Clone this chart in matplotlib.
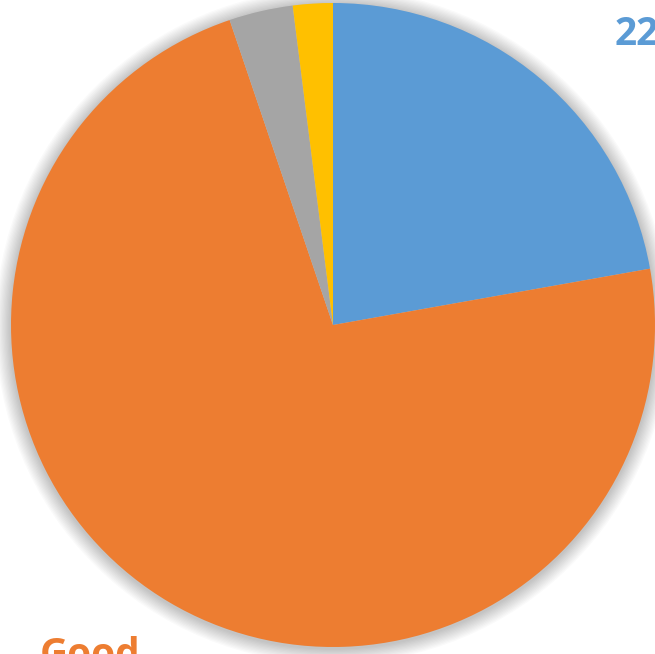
import matplotlib.pyplot as plt
from matplotlib.patches import Circle

categories = ["Very Good", "Good", "Fair", "Poor"]
values = [22.2, 72.6, 3.2, 2.0]
colors = ["#5B9BD5", "#ED7D31", "#A5A5A5", "#FFC000"]

W, H = 655, 654
CX, CY, R = 333, 325, 322

fig = plt.figure(figsize=(W / 100, H / 100), dpi=100)
ax = fig.add_axes([0, 0, 1, 1])
ax.set_aspect("equal")
ax.axis("off")

# soft shadow behind the pie
for i in range(12):
    ax.add_patch(Circle((0, -0.004), 1.0 + 0.004 * (12 - i), color="black",
                        alpha=0.018, lw=0, zorder=0))

ax.pie(values, colors=colors, startangle=90, counterclock=False,
       wedgeprops={"linewidth": 0}, radius=1.0)

ax.set_xlim(-CX / R, (W - CX) / R)
ax.set_ylim(-(H - CY) / R, CY / R)

font = ["Open Sans", "DejaVu Sans"]
ax.text((615 - CX) / R, (CY - 34) / R, "22%", color=colors[0], fontsize=28,
        fontweight="bold", family=font, ha="left", va="center")
ax.text((40 - CX) / R, (CY - 636) / R, "Good", color=colors[1], fontsize=28,
        fontweight="bold", family=font, ha="left", va="top")

fig.savefig("out.png", dpi=100)
